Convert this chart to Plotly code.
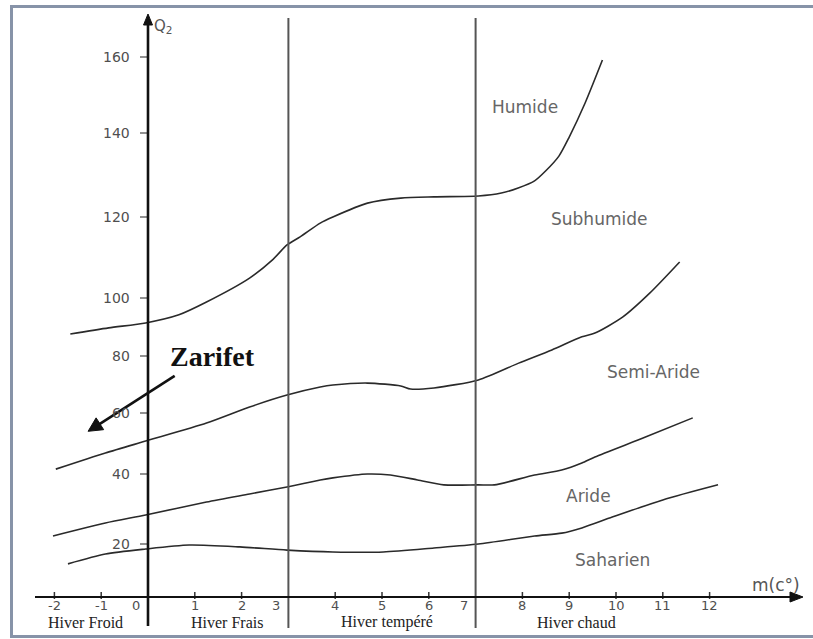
import numpy as np
import plotly.graph_objects as go

# ---- Climagramme d'Emberger : Q2 en fonction de m (°C) ----

# Limites entre étages bioclimatiques (m, Q2)
m_humide = [-1.66, -0.84, -0.05, 0.66, 1.25, 2.17, 2.66, 2.97, 3.25, 3.68, 3.95, 4.69,
            5.40, 6.11, 7.06, 7.55, 7.91, 8.26, 8.50, 8.78, 8.99, 9.34, 9.71]
q_humide = [87.6, 89.7, 91.4, 94.2, 98.6, 104.9, 109.4, 113.1, 115.1, 118.5, 120.0, 123.3,
            124.5, 124.8, 125.0, 125.7, 126.9, 128.6, 131.0, 134.5, 138.8, 147.9, 159.2]

m_subhumide = [-1.97, -0.91, -0.05, 1.25, 2.17, 2.97, 3.68, 3.95, 4.69, 5.40, 5.61, 6.11,
               7.06, 7.92, 8.63, 9.27, 9.55, 10.14, 10.72, 11.36]
q_subhumide = [41.6, 46.9, 50.8, 56.7, 62.1, 66.3, 69.1, 69.8, 70.5, 69.5, 68.4, 68.8,
               71.6, 77.5, 82.1, 86.6, 87.9, 93.4, 101.2, 108.9]

m_semiaride = [-2.03, -0.91, -0.05, 1.25, 2.17, 2.97, 3.68, 3.95, 4.69, 5.18, 5.76, 6.32,
               7.06, 7.40, 8.26, 8.84, 9.27, 9.55, 10.63, 11.64]
q_semiaride = [22.3, 26.0, 28.3, 32.0, 34.3, 36.3, 38.3, 38.9, 40.0, 39.7, 38.3, 36.9,
               36.9, 36.9, 39.7, 41.3, 43.6, 45.6, 52.1, 58.4]

m_aride = [-1.71, -0.91, -0.05, 0.88, 1.96, 2.97, 3.95, 5.03, 6.11, 7.06, 8.26, 8.84,
           9.27, 9.92, 11.00, 12.18]
q_aride = [12.5, 16.2, 18.1, 19.6, 18.9, 17.7, 17.0, 17.0, 18.5, 20.0, 22.3, 23.1,
           24.6, 27.7, 32.6, 36.9]

# Graduations
q_ticks = [20, 40, 60, 80, 100, 120, 140, 160]
m_ticks = [-2, -1, 0, 1, 2, 3, 4, 5, 6, 7, 8, 9, 10, 11, 12]
m_bounds = [3, 7]                      # limites des types d'hiver
hiver_labels = ["Hiver Froid", "Hiver Frais", "Hiver tempéré", "Hiver chaud"]
etages = ["Humide", "Subhumide", "Semi-Aride", "Aride", "Saharien"]
station = "Zarifet"
station_m, station_q = -1.28, 54.0     # pointe de la flèche
label_m, label_q = 0.57, 73.0          # départ de la flèche

# ---- Échelles ----
W, H = 813, 639
X0, XS = 148.0, 46.8          # pixel de m = 0, pixels par °C
Y0 = 597.0                    # pixel de l'axe des m (Q2 = 0)
# axe des Q2 gradué de façon non uniforme (comme le climagramme d'origine)
Q_ANCH = [0, 20, 40, 60, 80, 100, 120, 140, 160, 180]
D_ANCH = [0, 53, 123, 184, 241, 299, 380, 464, 540, 578]


def warp(q):
    return np.interp(q, Q_ANCH, D_ANCH)


def px(x):   # pixel horizontal -> fraction du papier
    return x / W


def py(y):   # pixel vertical -> fraction du papier
    return 1 - y / H


def mx(x):   # pixel horizontal -> m
    return (x - X0) / XS


def dy(y):   # pixel vertical -> coordonnée d'affichage
    return Y0 - y


def arrow(tail, tip, head_len, half_w, color, width):
    """Flèche (trait + pointe pleine) ; extrémités en coordonnées de données."""
    t = np.array([X0 + XS * tail[0], Y0 - tail[1]])
    p = np.array([X0 + XS * tip[0], Y0 - tip[1]])
    u = (p - t) / np.linalg.norm(p - t)
    n = np.array([-u[1], u[0]])
    base = p - head_len * u
    a, b = base + half_w * n, base - half_w * n
    to = lambda v: (mx(v[0]), dy(v[1]))
    line_end = to(p - 0.6 * head_len * u)
    out = [dict(type="line", xref="x", yref="y", x0=tail[0], y0=tail[1],
                x1=line_end[0], y1=line_end[1], line=dict(color=color, width=width))]
    pts = [to(p), to(a), to(b)]
    path = "M {} {} L {} {} L {} {} Z".format(*[c for pt in pts for c in pt])
    out.append(dict(type="path", xref="x", yref="y", path=path,
                    fillcolor=color, line=dict(color=color, width=1)))
    return out


fig = go.Figure()

curve_color = "#2a2a2a"
for mm, qq in [(m_humide, q_humide), (m_subhumide, q_subhumide),
               (m_semiaride, q_semiaride), (m_aride, q_aride)]:
    fig.add_trace(go.Scatter(
        x=mm, y=warp(np.array(qq)), mode="lines",
        line=dict(color=curve_color, width=1.6, shape="spline", smoothing=0.7),
        hoverinfo="skip", showlegend=False))

shapes = []
# cadre
shapes.append(dict(type="rect", xref="paper", yref="paper",
                   x0=px(11.5), x1=1.05, y0=py(636.5), y1=py(6.5),
                   line=dict(color="#8793a8", width=3), fillcolor="rgba(0,0,0,0)"))
# limites verticales des types d'hiver
for mb in m_bounds:
    shapes.append(dict(type="line", xref="x", yref="y", x0=mb, x1=mb,
                       y0=dy(628), y1=dy(18), line=dict(color="#555555", width=2)))
# graduations de l'axe des m
for mt in m_ticks:
    if mt in [0] + m_bounds:
        continue
    shapes.append(dict(type="line", xref="x", yref="y", x0=mt, x1=mt,
                       y0=-2, y1=5, line=dict(color="#333", width=1.5)))
# graduations de l'axe des Q2
for qt in q_ticks:
    shapes.append(dict(type="line", xref="x", yref="y", x0=mx(140), x1=0,
                       y0=warp(qt), y1=warp(qt), line=dict(color="#555", width=1.3)))

# axes fléchés
shapes += arrow((0, dy(626)), (0, dy(14)), 11, 4.5, "#111", 2.6)
shapes += arrow((mx(35), 0), (mx(803), 0), 13, 5, "#111", 2.2)
# flèche de la station
shapes += arrow((label_m, warp(label_q)), (station_m, warp(station_q)), 14, 7, "#111", 2.6)

ann = []
for qt in q_ticks:
    ann.append(dict(x=0, y=warp(qt), xref="x", yref="y", text=str(qt),
                    showarrow=False, xanchor="right", yanchor="middle",
                    xshift=-16, font=dict(family="DejaVu Sans", size=14, color="#4f4f4f")))
for mt in m_ticks:
    shift = -12 if mt in [0] + m_bounds else 0
    ann.append(dict(x=mt, y=0, xref="x", yref="y", text=str(mt),
                    showarrow=False, xanchor="center", yanchor="middle",
                    xshift=shift, yshift=-8,
                    font=dict(family="DejaVu Sans", size=13, color="#4f4f4f")))

ann.append(dict(x=px(152), y=py(27), xref="paper", yref="paper", text="Q<sub>2</sub>",
                showarrow=False, xanchor="left", yanchor="middle",
                font=dict(family="DejaVu Sans", size=15, color="#555")))
ann.append(dict(x=px(776), y=py(585), xref="paper", yref="paper", text="m(c°)",
                showarrow=False, xanchor="center", yanchor="middle",
                font=dict(family="DejaVu Sans", size=17, color="#555")))

# types d'hiver
for txt, cx in zip(hiver_labels, [85, 227, 387, 576]):
    ann.append(dict(x=px(cx), y=py(622), xref="paper", yref="paper", text=txt,
                    showarrow=False, xanchor="center", yanchor="middle",
                    font=dict(family="Liberation Serif", size=16, color="#222")))

# étages bioclimatiques
for txt, (cx, cy) in zip(etages, [(525, 107), (599, 219), (653, 372), (588, 496), (612, 560)]):
    ann.append(dict(x=px(cx), y=py(cy), xref="paper", yref="paper", text=txt,
                    showarrow=False, xanchor="center", yanchor="middle",
                    font=dict(family="DejaVu Sans", size=17, color="#666")))

# station
ann.append(dict(x=px(212), y=py(356), xref="paper", yref="paper", text="<b>" + station + "</b>",
                showarrow=False, xanchor="center", yanchor="middle",
                font=dict(family="Liberation Serif", size=28, color="#111")))

fig.update_layout(
    width=W, height=H, margin=dict(l=0, r=0, t=0, b=0),
    paper_bgcolor="white", plot_bgcolor="white",
    xaxis=dict(range=[mx(0), mx(W)], visible=False, fixedrange=True),
    yaxis=dict(range=[dy(H), dy(0)], visible=False, fixedrange=True),
    shapes=shapes, annotations=ann, showlegend=False,
)

fig.write_html("out.html")
